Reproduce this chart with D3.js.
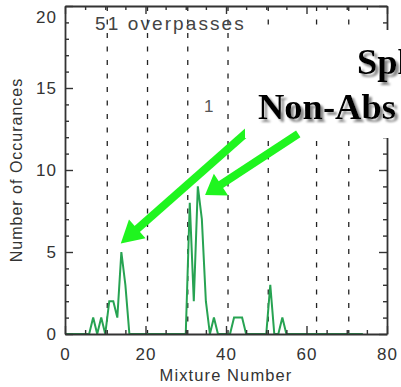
<!DOCTYPE html>
<html>
<head>
<meta charset="utf-8">
<script src="https://cdn.jsdelivr.net/npm/d3@7"></script>
<style>
  html, body { margin: 0; padding: 0; background: #fff; }
  svg { display: block; }
  text { font-family: "Liberation Sans", Arial, sans-serif; }
  text.callout { font-family: "Liberation Serif", "Times New Roman", serif; font-weight: bold; }
</style>
</head>
<body>
<script>
// Histogram of mixture numbers: occurrences for mixtures 0..74
const counts = [
  0, 0, 0, 0, 0, 0, 0, 1, 0, 1,   // 0-9
  0, 2, 2, 1, 5, 3, 0, 0, 0, 0,   // 10-19
  0, 0, 0, 0, 0, 0, 0, 0, 0, 0,   // 20-29
  0, 8, 2, 9, 7, 2, 0, 1, 0, 0,   // 30-39
  0, 0, 1, 1, 1, 0, 0, 0, 0, 0,   // 40-49
  0, 3, 0, 0, 1, 0, 0, 0, 0, 0,   // 50-59
  0, 0, 0, 0, 0, 0, 0, 0, 0, 0,   // 60-69
  0, 0, 0, 0, 0                   // 70-74
];
const groupDividers = [10.5, 20.5, 30.5, 40.5, 50.5, 62.5, 70.5];
const xMajorTicks = [0, 20, 40, 60, 80];
const xMinorTicks = [5, 10, 15, 25, 30, 35, 45, 50, 55, 65, 70, 75];
const yMajorTicks = [0, 5, 10, 15, 20];
const yMinorTicks = [1, 2, 3, 4, 6, 7, 8, 9, 11, 12, 13, 14, 16, 17, 18, 19];
const overpassLabel = "51 overpasses";
const xTitle = "Mixture Number";
const yTitle = "Number of Occurances";
const calloutLines = ["Spl", "Non-Abs"];

const W = 401, H = 387;
const plotLeft = 65, plotRight = 387, plotTop = 6, plotBottom = 334;
const axisColor = "#333";
const lineColor = "#27a352";
const arrowColor = "#1ff51f";

const svg = d3.select("body").append("svg")
  .attr("width", W).attr("height", H);

// Soft grey drop shadow for the callout lettering
const defs = svg.append("defs");
const shadow = defs.append("filter").attr("id", "textShadow")
  .attr("x", "-10%").attr("y", "-20%").attr("width", "130%").attr("height", "150%");
shadow.append("feGaussianBlur").attr("in", "SourceAlpha").attr("stdDeviation", 0.9).attr("result", "blur");
shadow.append("feOffset").attr("in", "blur").attr("dx", 2.5).attr("dy", 2.5).attr("result", "off");
shadow.append("feFlood").attr("flood-color", "#888").attr("result", "col");
shadow.append("feComposite").attr("in", "col").attr("in2", "off").attr("operator", "in").attr("result", "sh");
const merge = shadow.append("feMerge");
merge.append("feMergeNode").attr("in", "sh");
merge.append("feMergeNode").attr("in", "SourceGraphic");

const x = d3.scaleLinear().domain([0, 80]).range([plotLeft, plotRight]);
const y = d3.scaleLinear().domain([0, 20]).range([plotBottom, plotTop]);

// Dashed separators between mixture groups
svg.append("g").selectAll("line").data(groupDividers).join("line")
  .attr("x1", d => x(d)).attr("x2", d => x(d))
  .attr("y1", plotTop).attr("y2", plotBottom)
  .attr("stroke", "#222").attr("stroke-width", 1.3)
  .attr("stroke-dasharray", "5,8.5");

// Occurrence curve
const line = d3.line().x((d, i) => x(i)).y(d => y(d));
svg.append("path").datum(counts)
  .attr("d", line)
  .attr("fill", "none")
  .attr("stroke", lineColor)
  .attr("stroke-width", 2)
  .attr("stroke-linejoin", "miter");

// Axes with inward ticks
function styleAxis(g) {
  g.selectAll("path.domain").attr("stroke", axisColor).attr("stroke-width", 1.8);
  g.selectAll(".tick line").attr("stroke", axisColor).attr("stroke-width", 1.4);
  g.selectAll(".tick text")
    .attr("fill", "#333")
    .style("font-size", "17px")
    .style("letter-spacing", "1px")
    .style("font-family", "Liberation Sans, Arial, sans-serif");
}

const gLeft = svg.append("g").attr("transform", `translate(${plotLeft},0)`)
  .call(d3.axisLeft(y).tickValues(yMajorTicks).tickSizeInner(-8).tickSizeOuter(0).tickPadding(8).tickFormat(d3.format("d")));
gLeft.append("g").call(d3.axisLeft(y).tickValues(yMinorTicks).tickSizeInner(-4).tickSizeOuter(0).tickFormat(""))
  .select("path.domain").remove();
styleAxis(gLeft);
gLeft.selectAll(".tick text").filter(d => d === 20).attr("dy", "0.95em");

const gBottom = svg.append("g").attr("transform", `translate(0,${plotBottom})`)
  .call(d3.axisBottom(x).tickValues(xMajorTicks).tickSizeInner(-8).tickSizeOuter(0).tickPadding(14).tickFormat(d3.format("d")));
gBottom.append("g").call(d3.axisBottom(x).tickValues(xMinorTicks).tickSizeInner(-4).tickSizeOuter(0).tickFormat(""))
  .select("path.domain").remove();
styleAxis(gBottom);

const gRight = svg.append("g").attr("transform", `translate(${plotRight},0)`)
  .call(d3.axisRight(y).tickValues(yMajorTicks).tickSizeInner(-8).tickSizeOuter(0).tickFormat(""));
gRight.append("g").call(d3.axisRight(y).tickValues(yMinorTicks).tickSizeInner(-4).tickSizeOuter(0).tickFormat(""))
  .select("path.domain").remove();
styleAxis(gRight);

const gTop = svg.append("g").attr("transform", `translate(0,${plotTop})`)
  .call(d3.axisTop(x).tickValues(xMajorTicks).tickSizeInner(-8).tickSizeOuter(0).tickFormat(""));
gTop.append("g").call(d3.axisTop(x).tickValues(xMinorTicks).tickSizeInner(-4).tickSizeOuter(0).tickFormat(""))
  .select("path.domain").remove();
styleAxis(gTop);

// Axis titles
svg.append("text")
  .attr("x", x(40)).attr("y", 381)
  .attr("text-anchor", "middle")
  .attr("fill", "#333")
  .style("font-size", "16.5px").style("letter-spacing", "1.1px")
  .text(xTitle);

svg.append("text")
  .attr("transform", `translate(22,${(plotTop + plotBottom) / 2}) rotate(-90)`)
  .attr("text-anchor", "middle")
  .attr("fill", "#333")
  .style("font-size", "16px").style("letter-spacing", "1px")
  .text(yTitle);

// In-plot annotations
svg.append("text")
  .attr("x", 95).attr("y", 30)
  .attr("fill", "#444")
  .style("font-size", "19px").style("letter-spacing", "2.1px")
  .text(overpassLabel);

svg.append("text")
  .attr("x", 204).attr("y", 112)
  .attr("fill", "#555")
  .style("font-size", "17px")
  .text("1");

// Arrow helper: shaft + triangular head, in data units
function arrow(from, to, headLen, headHalf, width) {
  const x0 = x(from[0]), y0 = y(from[1]), x1 = x(to[0]), y1 = y(to[1]);
  const len = Math.hypot(x1 - x0, y1 - y0);
  const ux = (x1 - x0) / len, uy = (y1 - y0) / len;
  const bx = x1 - ux * headLen, by = y1 - uy * headLen;
  const g = svg.append("g");
  g.append("line")
    .attr("x1", x0).attr("y1", y0)
    .attr("x2", bx + ux * 2).attr("y2", by + uy * 2)
    .attr("stroke", arrowColor).attr("stroke-width", width)
    .attr("stroke-linecap", "butt");
  g.append("polygon")
    .attr("points", [
      [x1, y1],
      [bx - uy * headHalf, by + ux * headHalf],
      [bx + uy * headHalf, by - ux * headHalf]
    ].map(p => p.join(",")).join(" "))
    .attr("fill", arrowColor);
}

// Arrow toward the mixture-14 peak (its tail runs under the callout box)
arrow([47.5, 12.8], [13.85, 5.52], 22, 12.5, 8);

// Callout box
svg.append("rect")
  .attr("x", 245).attr("y", 30).attr("width", W - 245).attr("height", 108)
  .attr("fill", "#fff");

const callout = svg.append("g").attr("filter", "url(#textShadow)");
[[357, 74, calloutLines[0]], [258, 119, calloutLines[1]]].forEach(([tx, ty, t]) => {
  callout.append("text").attr("class", "callout")
    .attr("x", tx).attr("y", ty)
    .attr("fill", "#000")
    .style("font-size", "36.5px")
    .text(t);
});

// Arrow toward the mixture-33 peak
arrow([57.95, 12.2], [34.8, 8.48], 19, 13, 8);
</script>
</body>
</html>
